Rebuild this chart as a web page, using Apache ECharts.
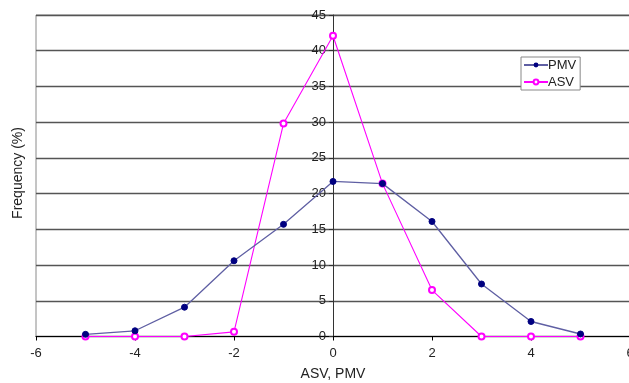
<!DOCTYPE html>
<html>
<head>
<meta charset="utf-8">
<script src="https://cdn.jsdelivr.net/npm/echarts@6/dist/echarts.min.js"></script>
<style>
  html, body { margin: 0; padding: 0; background: #fff; }
  #chart { width: 629px; height: 383px; }
</style>
</head>
<body>
<div id="chart"></div>
<script>
// Thermal sensation votes: scale points and frequency of each vote (%)
const scalePoints = [-5, -4, -3, -2, -1, 0, 1, 2, 3, 4, 5];
const pmvFreq = [0.3, 0.8, 4.1, 10.6, 15.7, 21.7, 21.4, 16.1, 7.35, 2.1, 0.35];
const asvFreq = [0, 0, 0, 0.65, 29.8, 42.1, 21.4, 6.5, 0, 0, 0];

const toPairs = vals => scalePoints.map((x, i) => [x, vals[i]]);

const chart = echarts.init(document.getElementById('chart'));
const font = 'Liberation Sans, Arial, sans-serif';

// grid spans x = 36 .. 630, so the value 0 sits 297 px right of the left edge
const GRID_LEFT = 36, GRID_RIGHT = -1;
const yAxisShift = (629 - GRID_RIGHT - GRID_LEFT) / 2;

chart.setOption({
  animation: false,
  grid: {
    left: GRID_LEFT, right: GRID_RIGHT, top: 15, bottom: 46.5,
    outerBoundsMode: 'none', containLabel: false,
    show: true, borderColor: '#8a8a8a', borderWidth: 1, backgroundColor: '#fff'
  },
  graphic: [{
    type: 'text', x: 18, y: 173, rotation: Math.PI / 2,
    style: {
      text: 'Frequency (%)', font: '14px ' + font, fill: '#222',
      align: 'center', verticalAlign: 'middle'
    }
  }],
  xAxis: {
    type: 'value', min: -6, max: 6, interval: 2,
    name: 'ASV, PMV', nameLocation: 'middle', nameGap: 31,
    nameTextStyle: { fontFamily: font, fontSize: 14, color: '#222' },
    axisLine: { onZero: true, lineStyle: { color: '#000', width: 1.2 } },
    axisTick: { show: true, length: 4, lineStyle: { color: '#000' } },
    axisLabel: { fontFamily: font, fontSize: 13, color: '#222', margin: 10 },
    splitLine: { show: false }
  },
  yAxis: {
    type: 'value', min: 0, max: 45, interval: 5,
    position: 'left', offset: -yAxisShift,
    axisLine: { show: true, onZero: false, lineStyle: { color: '#333', width: 1 } },
    axisTick: { show: true, length: 4, lineStyle: { color: '#333' } },
    axisLabel: { fontFamily: font, fontSize: 13, color: '#222', margin: 7 },
    splitLine: { show: true, lineStyle: { color: '#555', width: 1.4 } }
  },
  legend: {
    left: 521, top: 57, orient: 'vertical',
    backgroundColor: '#fff', borderColor: '#888', borderWidth: 1,
    padding: [1, 4, 1, 2], itemGap: 3, itemWidth: 24, itemHeight: 6,
    textStyle: { fontFamily: font, fontSize: 13, lineHeight: 14, color: '#222', padding: [0, 0, 0, -5] },
    data: ['PMV', 'ASV']
  },
  series: [
    {
      name: 'PMV', type: 'line', data: toPairs(pmvFreq),
      symbol: 'circle', symbolSize: 6,
      lineStyle: { color: '#5f5fa3', width: 1.3 },
      itemStyle: { color: '#000080', borderColor: '#000080' },
      z: 3
    },
    {
      name: 'ASV', type: 'line', data: toPairs(asvFreq),
      symbol: 'emptyCircle', symbolSize: 6,
      lineStyle: { color: '#ff00ff', width: 1.1 },
      itemStyle: { color: '#ff00ff', borderColor: '#ff00ff', borderWidth: 1 },
      z: 2
    }
  ]
});
</script>
</body>
</html>
